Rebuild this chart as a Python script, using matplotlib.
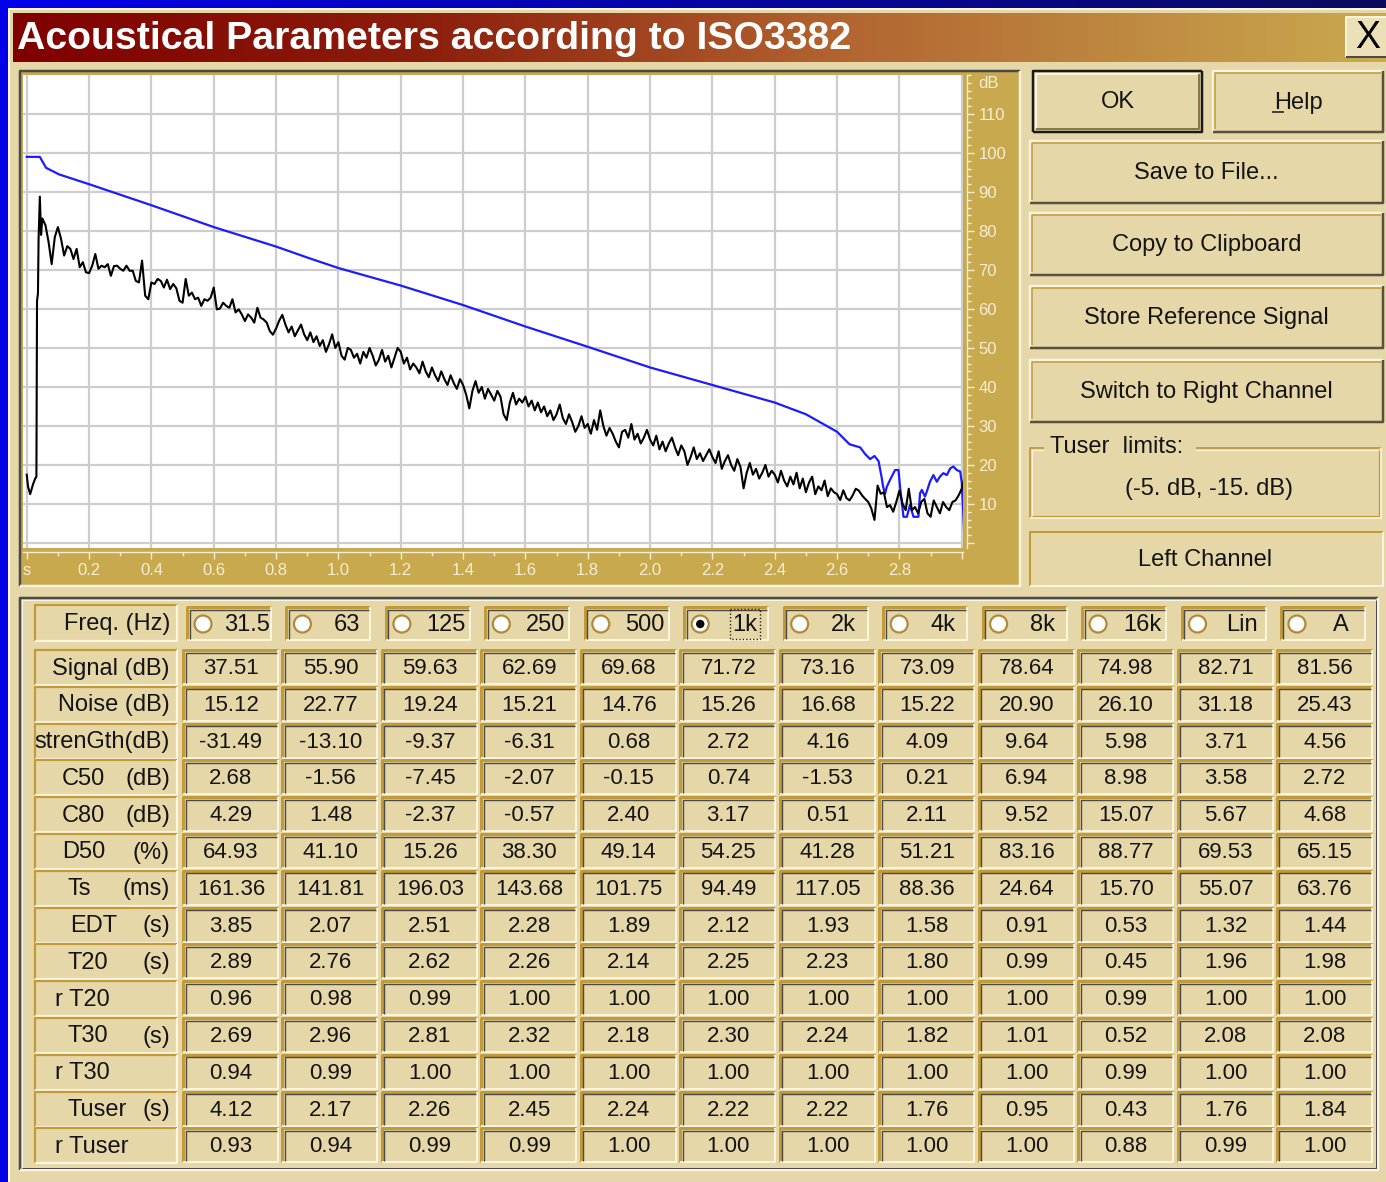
import numpy as np
import matplotlib
matplotlib.use('Agg')
import matplotlib.pyplot as plt
from matplotlib.patches import Rectangle, Circle
from matplotlib.ticker import MultipleLocator

W, H = 1386, 1182

# ---------------- data ----------------
freq_labels = ['31.5', '63', '125', '250', '500', '1k', '2k', '4k', '8k', '16k', 'Lin', 'A']
selected_band = '1k'

row_names = ['Signal (dB)', 'Noise (dB)', 'strenGth(dB)', 'C50', 'C80', 'D50', 'Ts',
             'EDT', 'T20', 'r T20', 'T30', 'r T30', 'Tuser', 'r Tuser']
row_units = ['', '', '', '(dB)', '(dB)', '(%)', '(ms)', '(s)', '(s)', '', '(s)', '', '(s)', '']

signal_db = [37.51, 55.90, 59.63, 62.69, 69.68, 71.72, 73.16, 73.09, 78.64, 74.98, 82.71, 81.56]
noise_db = [15.12, 22.77, 19.24, 15.21, 14.76, 15.26, 16.68, 15.22, 20.90, 26.10, 31.18, 25.43]
strength_db = [-31.49, -13.10, -9.37, -6.31, 0.68, 2.72, 4.16, 4.09, 9.64, 5.98, 3.71, 4.56]
c50_db = [2.68, -1.56, -7.45, -2.07, -0.15, 0.74, -1.53, 0.21, 6.94, 8.98, 3.58, 2.72]
c80_db = [4.29, 1.48, -2.37, -0.57, 2.40, 3.17, 0.51, 2.11, 9.52, 15.07, 5.67, 4.68]
d50_pct = [64.93, 41.10, 15.26, 38.30, 49.14, 54.25, 41.28, 51.21, 83.16, 88.77, 69.53, 65.15]
ts_ms = [161.36, 141.81, 196.03, 143.68, 101.75, 94.49, 117.05, 88.36, 24.64, 15.70, 55.07, 63.76]
edt_s = [3.85, 2.07, 2.51, 2.28, 1.89, 2.12, 1.93, 1.58, 0.91, 0.53, 1.32, 1.44]
t20_s = [2.89, 2.76, 2.62, 2.26, 2.14, 2.25, 2.23, 1.80, 0.99, 0.45, 1.96, 1.98]
r_t20 = [0.96, 0.98, 0.99, 1.00, 1.00, 1.00, 1.00, 1.00, 1.00, 0.99, 1.00, 1.00]
t30_s = [2.69, 2.96, 2.81, 2.32, 2.18, 2.30, 2.24, 1.82, 1.01, 0.52, 2.08, 2.08]
r_t30 = [0.94, 0.99, 1.00, 1.00, 1.00, 1.00, 1.00, 1.00, 1.00, 0.99, 1.00, 1.00]
tuser_s = [4.12, 2.17, 2.26, 2.45, 2.24, 2.22, 2.22, 1.76, 0.95, 0.43, 1.76, 1.84]
r_tuser = [0.93, 0.94, 0.99, 0.99, 1.00, 1.00, 1.00, 1.00, 1.00, 0.88, 0.99, 1.00]
table_rows = [signal_db, noise_db, strength_db, c50_db, c80_db, d50_pct, ts_ms,
              edt_s, t20_s, r_t20, t30_s, r_t30, tuser_s, r_tuser]

# energy decay (black): onset samples, then 10 ms samples from 0.05 s
onset_t = [0.0, 0.004, 0.011, 0.02, 0.027, 0.031, 0.033, 0.036, 0.038, 0.042, 0.046]
onset_db = [17.5, 14.5, 12.5, 15.0, 16.5, 17.0, 62.0, 64.0, 78.0, 88.8, 79.0]
decay_start, decay_step = 0.05, 0.01
decay_db = [
    83.2, 81.5, 77.2, 71.5, 78.4, 81.0, 78.0, 73.7, 76.1, 75.4,   # 0.05-0.14
    72.8, 75.4, 70.7, 72.0, 69.4, 69.2, 71.1, 74.1, 70.3, 71.1,   # 0.15-0.24
    70.7, 71.5, 68.5, 71.0, 71.1, 70.3, 69.8, 71.1, 69.8, 69.8,   # 0.25-0.34
    67.2, 66.8, 72.4, 63.4, 62.5, 66.8, 66.4, 67.7, 67.2, 65.5,   # 0.35-0.44
    67.5, 65.1, 66.4, 65.3, 62.1, 61.6, 67.7, 63.4, 64.2, 62.5,   # 0.45-0.54
    62.9, 60.8, 62.5, 62.1, 62.9, 65.5, 59.9, 60.1, 61.6, 60.8,   # 0.55-0.64
    60.3, 62.5, 59.1, 59.9, 58.6, 56.9, 58.6, 57.8, 56.5, 60.3,   # 0.65-0.74
    57.8, 57.3, 56.5, 54.3, 53.4,                                 # 0.75-0.79
    55.0, 57.0, 58.5, 56.0, 54.0, 55.5, 53.0, 54.5, 56.0, 53.5,   # 0.80-0.89
    52.0, 54.0, 51.5, 53.0, 50.5, 52.0, 49.0, 51.0, 53.5, 50.0,   # 0.90-0.99
    51.5, 48.0, 47.0, 50.0, 49.5, 47.5, 48.5, 46.0, 49.0, 47.5,   # 1.00-1.09
    50.0, 48.0, 45.5, 47.0, 49.5, 46.5, 48.0, 45.0, 47.5, 50.0,   # 1.10-1.19
    49.0, 46.0, 47.5, 44.5, 46.0, 45.0, 43.5, 46.5, 44.0, 42.5,   # 1.20-1.29
    45.0, 43.0, 41.5, 44.0, 42.0, 40.5, 43.0, 41.0, 39.5, 42.0,   # 1.30-1.39
    40.5, 38.0, 34.5, 39.0, 41.5, 38.5, 40.0, 37.0, 39.5, 38.0,   # 1.40-1.49
    36.5, 39.0, 37.5, 33.0, 31.5, 36.0, 38.5, 35.5, 37.0, 36.0,   # 1.50-1.59
    37.5, 35.0, 36.5, 34.0, 36.0, 33.5, 35.0, 32.5, 34.0, 31.5,   # 1.60-1.69
    33.0, 35.5, 32.0, 30.5, 33.0, 31.0, 28.5, 30.0, 32.5, 29.5,   # 1.70-1.79
    30.5, 28.0, 31.5, 29.0, 34.0, 30.0, 27.5, 29.5, 28.0, 26.0,   # 1.80-1.89
    24.5, 28.5, 29.0, 27.0, 30.5, 26.5, 28.0, 25.5, 27.0, 29.0,   # 1.90-1.99
    26.5, 25.0, 27.5, 24.0, 26.0, 23.5, 25.5, 27.0, 24.5, 22.5,   # 2.00-2.09
    25.0, 23.5, 20.0, 22.0, 24.5, 21.5, 23.0, 21.0, 22.5, 24.0,   # 2.10-2.19
    22.0, 20.5, 23.5, 19.0, 21.0, 22.5, 20.0, 18.5, 21.5, 19.5,   # 2.20-2.29
    14.0, 18.0, 20.5, 17.5, 19.0, 16.5, 18.0, 20.0, 17.0, 18.5,   # 2.30-2.39
    17.5, 15.5, 18.5, 16.0, 14.5, 17.0, 15.0, 18.0, 14.0, 16.5,   # 2.40-2.49
    13.0, 15.5, 17.0, 12.5, 14.5, 13.5, 16.0, 12.0, 14.0, 13.0,   # 2.50-2.59
    12.5, 11.0, 13.5, 11.5, 10.9, 12.2, 13.9, 13.4, 12.2, 11.3,   # 2.60-2.69
    10.5, 8.8, 5.9, 14.7, 12.6, 13.0, 9.2, 9.7, 8.0, 10.5,        # 2.70-2.79
    13.4, 10.1, 8.4, 13.9, 8.4, 9.2, 7.6, 10.5, 11.3, 7.6,        # 2.80-2.89
    6.7, 10.9, 9.2, 7.6, 10.5, 9.2, 8.4, 10.5, 10.9, 12.2,        # 2.90-2.99
    13.9, 17.2,                                                   # 3.00-3.01
]

# Schroeder integral (blue)
blue_t = [0.0, 0.042, 0.062, 0.104, 0.2, 0.3, 0.4, 0.5, 0.6, 0.7, 0.8, 0.907, 1.0, 1.2,
          1.4, 1.6, 1.8, 2.0, 2.2, 2.4, 2.5, 2.6, 2.64, 2.674, 2.69, 2.706, 2.72, 2.733,
          2.743, 2.748, 2.754, 2.759, 2.77, 2.786, 2.797, 2.802, 2.813, 2.824, 2.834,
          2.845, 2.861, 2.866, 2.872, 2.882, 2.888, 2.898, 2.909, 2.92, 2.93, 2.941,
          2.952, 2.963, 2.973, 2.984, 2.995, 3.0, 3.005, 3.01]
blue_db = [99, 99, 96.2, 94.5, 92, 89.3, 86.6, 83.8, 81, 78.5, 76, 73, 70.5, 66,
           61, 55.5, 50.3, 45, 40.5, 36, 33, 28.5, 25.3, 24.5, 22.8, 21.5, 22.3, 21,
           16.8, 14.3, 12.6, 14.3, 16.2, 18.7, 18.7, 14.4, 6.7, 6.7, 9.8,
           6.7, 6.7, 12.7, 13.6, 11.9, 13.2, 15.7, 17.4, 15.7, 17, 17.9,
           17.4, 19.1, 19.6, 18.7, 18.3, 15.5, 7.7, -0.9]

x_major = [0.0, 0.2, 0.4, 0.6, 0.8, 1.0, 1.2, 1.4, 1.6, 1.8, 2.0, 2.2, 2.4, 2.6, 2.8, 3.0]
x_labels = ['s', '0.2', '0.4', '0.6', '0.8', '1.0', '1.2', '1.4', '1.6', '1.8', '2.0',
            '2.2', '2.4', '2.6', '2.8', '']
y_major = [0, 10, 20, 30, 40, 50, 60, 70, 80, 90, 100, 110]
y_labels = ['', '10', '20', '30', '40', '50', '60', '70', '80', '90', '100', '110']

buttons = ['Save to File...', 'Copy to Clipboard', 'Store Reference Signal',
           'Switch to Right Channel']

# ---------------- style ----------------
FONT = 'Liberation Sans'
plt.rcParams['font.family'] = [FONT, 'DejaVu Sans']
DLG = '#e6d7a9'
GOLD = '#c9a94e'
CREAM = '#fbf4de'
EDGE_GOLD = '#c29a38'
DARK = '#4a4a48'
PX = 0.72  # points per pixel at dpi 100

fig = plt.figure(figsize=(W / 100, H / 100), dpi=100)
fig.patch.set_facecolor('#0000e6')
bg = fig.add_axes([0, 0, 1, 1])
bg.set_axis_off()

def line(xs, ys, color, px, z=3, **kw):
    bg.plot(xs, ys, color=color, lw=px * PX, solid_capstyle='butt', zorder=z, **kw)

def bevel(x, y, w, h, tl, br, px=2, fill=None, z=2):
    if fill is not None:
        bg.add_patch(Rectangle((x, y), w, h, facecolor=fill, edgecolor='none', zorder=z))
    line([x, x, x + w], [y + h, y, y], tl, px, z + 0.1)
    line([x, x + w, x + w], [y + h, y + h, y], br, px, z + 0.1)

# top blue gradient strip
grad_top = np.linspace(0, 1, 256)
top_cols = np.array([[g * 10, g * 10, (1 - g) * 235 + g * 95] for g in grad_top]) / 255
bg.imshow(top_cols[None, :, :], extent=(0, W, 9, 0), aspect='auto', zorder=0)

# dialog body
bg.add_patch(Rectangle((8, 8), W - 8, H - 8, facecolor=DLG, edgecolor='none', zorder=1))
line([9, 9], [H, 9], CREAM, 2, 1.5)
line([9, W], [9, 9], CREAM, 2, 1.5)

# title bar gradient
stops = [(0.0, (128, 0, 0)), (0.3, (140, 30, 12)), (0.6, (178, 100, 48)), (1.0, (202, 170, 80))]
gx = np.linspace(0, 1, 400)
cols = []
for g in gx:
    for (p0, c0), (p1, c1) in zip(stops[:-1], stops[1:]):
        if p0 <= g <= p1:
            f = (g - p0) / (p1 - p0)
            cols.append([(c0[k] * (1 - f) + c1[k] * f) / 255 for k in range(3)])
            break
cols = np.array(cols)
bg.imshow(cols[None, :, :], extent=(13, W, 62, 13), aspect='auto', zorder=1.5)
bg.text(17, 39, 'Acoustical Parameters according to ISO3382', color='white',
        fontsize=28.3, fontweight='bold', va='center', ha='left', zorder=4)
# close button
bevel(1346, 17, 42, 40, CREAM, DARK, 2, fill='#ece0b9', z=3)
bg.text(1368, 38, 'X', fontsize=27, color='black', ha='center', va='center', zorder=4)

# ---- plot panel ----
bg.add_patch(Rectangle((20, 71), 1000, 515, facecolor=GOLD, edgecolor='none', zorder=2))
bevel(20, 71, 1000, 515, DARK, CREAM, 2.5, z=2.5)
bg.text(978, 84, 'dB', fontsize=12, color='#f6eed6', ha='left', va='center', zorder=4)

ax = fig.add_axes([23 / W, 1 - 548 / H, 940 / W, 473 / H])
ax.set_zorder(5)
ax.set_facecolor('white')
ax.set_xlim(-0.012, 3.004)
ax.set_ylim(-1.3, 120)
black_t = onset_t + [round(decay_start + i * decay_step, 3) for i in range(len(decay_db))]
black_db = onset_db + decay_db
ax.plot(blue_t, blue_db, color='#1c1cff', lw=1.6, zorder=3)
ax.plot(black_t, black_db, color='black', lw=1.5, zorder=4)
ax.set_xticks(x_major)
ax.set_xticklabels(x_labels)
ax.set_yticks(y_major)
ax.set_yticklabels(y_labels)
ax.xaxis.set_minor_locator(MultipleLocator(0.1))
ax.yaxis.set_minor_locator(MultipleLocator(2))
ax.yaxis.tick_right()
ax.set_axisbelow(True)
ax.grid(True, which='major', color='#cdcdcd', lw=1.6)
for s in ['top', 'left']:
    ax.spines[s].set_visible(False)
for s in ['right', 'bottom']:
    ax.spines[s].set_color('#f6eed6')
    ax.spines[s].set_linewidth(1)
    ax.spines[s].set_position(('outward', 3))
ax.tick_params(which='major', direction='out', length=5, width=1, colors='#f6eed6',
               labelsize=12, pad=3)
ax.tick_params(which='minor', direction='out', length=3, width=1, colors='#f6eed6')
for lab in ax.get_xticklabels() + ax.get_yticklabels():
    lab.set_fontfamily(FONT)

# ---- buttons ----
def button(x, y, w, h, text, default=False):
    bg.add_patch(Rectangle((x, y), w, h, facecolor=DLG, edgecolor='none', zorder=2))
    if default:
        bevel(x, y, w, h, '#1a1a1a', '#1a1a1a', 2.5, z=2.5)
        bevel(x + 3, y + 3, w - 6, h - 6, CREAM, '#8c7648', 2, z=2.6)
    else:
        bevel(x, y, w, h, CREAM, '#5a5040', 2.5, z=2.5)
        line([x + 2, x + 2, x + w - 2], [y + h - 3, y + 2, y + 2], EDGE_GOLD, 1.5, 2.7)
    bg.text(x + w / 2, y + h / 2 + 1, text, fontsize=17, ha='center', va='center',
            color='#141414', zorder=4)

button(1033, 71, 169, 61, 'OK', default=True)
button(1213, 71, 170, 61, 'Help')
line([1272, 1284], [112, 112], '#141414', 1.5, 5)  # mnemonic underline
btn_y = [141, 213, 286, 360]
for yy, txt in zip(btn_y, buttons):
    button(1030, yy, 353, 62, txt)

# group box
bevel(1030, 448, 351, 70, EDGE_GOLD, CREAM, 1.8, z=2.5)
bevel(1032, 450, 347, 66, CREAM, EDGE_GOLD, 1.2, z=2.5)
bg.add_patch(Rectangle((1044, 436), 152, 22, facecolor=DLG, edgecolor='none', zorder=3))
bg.text(1050, 447, 'Tuser  limits:', fontsize=17, ha='left', va='center', color='#141414', zorder=4)
bg.text(1209, 489, '(-5. dB, -15. dB)', fontsize=17, ha='center', va='center', color='#141414', zorder=4)
bevel(1030, 532, 353, 54, EDGE_GOLD, CREAM, 2, z=2.5)
bg.text(1205, 560, 'Left Channel', fontsize=17, ha='center', va='center', color='#141414', zorder=4)

# ---- table panel ----
bevel(20, 598, 1358, 572, DARK, CREAM, 2.5, z=2)
bevel(22, 600, 1354, 568, CREAM, DARK, 1, z=2)

COL0_V, COL0_R, DX = 183, 187, 99.45
ROW0, DY = 650, 36.8

def label_cell(x, y, w, h):
    bevel(x, y, w, h, EDGE_GOLD, CREAM, 2.2, fill=DLG, z=2.2)

def value_cell(x, y, w, h):
    bg.add_patch(Rectangle((x, y), w, h, facecolor=DLG, edgecolor='none', zorder=2.2))
    line([x, x, x + w], [y + h, y, y], EDGE_GOLD, 3, 2.4)
    line([x + 2.5, x + 2.5, x + w - 1], [y + h - 1, y + 2.5, y + 2.5], DARK, 1.4, 2.5)
    line([x, x + w, x + w], [y + h, y + h, y], CREAM, 2, 2.4)

# header row
label_cell(35, 605, 142, 36)
bg.text(170, 624, 'Freq. (Hz)', fontsize=17, ha='right', va='center', color='#141414', zorder=4)
for i, f in enumerate(freq_labels):
    x = COL0_R + i * DX
    value_cell(x, 607, 84, 33)
    cx, cy = x + 16, 624
    bg.add_patch(Circle((cx, cy), 8.5, facecolor='white', edgecolor='#b08a3a', lw=1.6, zorder=3))
    if f == selected_band:
        bg.add_patch(Circle((cx, cy), 4.2, facecolor='black', edgecolor='none', zorder=3.5))
        bg.add_patch(Rectangle((x + 46, 609), 30, 30, facecolor='none', edgecolor='#222',
                               lw=1, ls=(0, (1, 1.5)), zorder=3.5))
    bg.text(x + 60, 625, f, fontsize=17, ha='center', va='center', color='#141414', zorder=4)

# data rows
name_x = [None, None, None, 62, 62, 62, 67, 70, 68, 55, 68, 55, 68, 55]
for r, (name, unit, vals) in enumerate(zip(row_names, row_units, table_rows)):
    y = ROW0 + r * DY
    cy = y + 18.5
    label_cell(35, y, 142, 35)
    if name_x[r] is None:
        bg.text(170, cy, name, fontsize=17, ha='right', va='center', color='#141414', zorder=4)
    else:
        bg.text(name_x[r], cy, name, fontsize=17, ha='left', va='center', color='#141414', zorder=4)
        if unit:
            bg.text(170, cy, unit, fontsize=17, ha='right', va='center', color='#141414', zorder=4)
    for i, v in enumerate(vals):
        x = COL0_V + i * DX
        value_cell(x, y, 95, 34)
        bg.text(x + 48, cy, f'{v:.2f}', fontsize=16, ha='center', va='center',
                color='#141414', zorder=4)

bg.set_xlim(0, W)
bg.set_ylim(H, 0)
fig.savefig('out.png', dpi=100, facecolor=fig.get_facecolor())
